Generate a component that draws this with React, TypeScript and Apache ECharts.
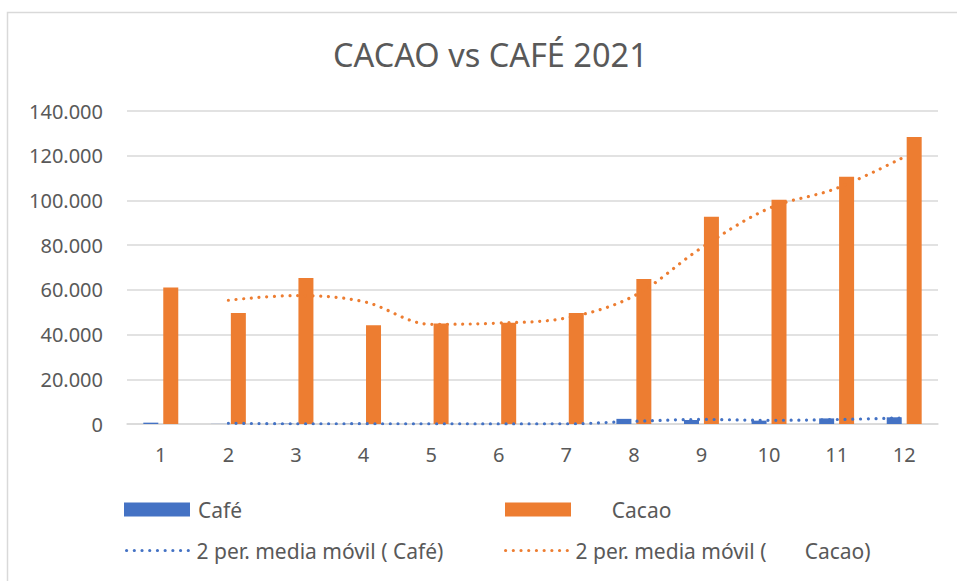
import React, { useEffect, useRef } from "react";
import * as echarts from "echarts";

const categories = ["1", "2", "3", "4", "5", "6", "7", "8", "9", "10", "11", "12"];
const cafeName = "Café";
const cacaoName = "      Cacao";
const cafeMAName = "2 per. media móvil ( Café)";
const cacaoMAName = "2 per. media móvil (       Cacao)";
const cafeValues = [600, 50, 150, 100, 50, 50, 100, 2300, 1800, 1500, 2500, 3000];
const cacaoValues = [61100, 49600, 65300, 44200, 45000, 45300, 49600, 64900, 92650, 100270, 110580, 128330];
const cafeMA = [null, 325, 100, 125, 75, 50, 75, 1200, 2050, 1650, 2000, 2750];
const cacaoMA = [null, 55350, 57450, 54750, 44600, 45150, 47450, 57250, 78775, 96460, 105425, 119455];
const yTicks = { min: 0, max: 140000, interval: 20000 };

const BLUE = "#4472C4";
const ORANGE = "#ED7D31";
const TEXT = "#595959";
const FONT = "'Noto Sans', 'Open Sans', sans-serif";

export default function App() {
  const ref = useRef<HTMLDivElement>(null);
  useEffect(() => {
    document.body.style.margin = "0";
    const chart = echarts.init(ref.current!, null, { renderer: "svg" });
    const dotStyle = (color: string) => ({
      color,
      width: 3.2,
      type: [0.01, 7.7] as number[],
      cap: "round" as const,
    });
    const legendBase = {
      orient: "horizontal" as const,
      itemWidth: 66,
      itemHeight: 14,
      textStyle: { color: TEXT, fontSize: 21, fontFamily: FONT, padding: [0, 0, 0, 3] },
      selectedMode: false,
    };
    const hiddenSymbol = { color: "rgba(0,0,0,0)", borderColor: "rgba(0,0,0,0)", borderWidth: 0, opacity: 0 };
    chart.setOption({
      animation: false,
      textStyle: { fontFamily: FONT },
      title: {
        text: "CACAO vs CAFÉ 2021",
        left: 328,
        top: 33,
        textStyle: { color: TEXT, fontSize: 32.5, fontWeight: "normal", fontFamily: FONT },
      },
      graphic: [
        {
          type: "rect",
          shape: { x: 7.5, y: 12.5, width: 1000, height: 700 },
          style: { fill: "none", stroke: "#d9d9d9", lineWidth: 1.5 },
          silent: true,
        },
      ],
      grid: { left: 127, right: 19, top: 111, bottom: 157, containLabel: false },
      legend: [
        { ...legendBase, data: [{ name: cafeName, icon: "rect" }], left: 119, top: 494 },
        { ...legendBase, data: [{ name: cacaoName, icon: "rect" }], left: 500, top: 494 },
        {
          ...legendBase,
          itemWidth: 62,
          data: [{ name: cafeMAName, itemStyle: hiddenSymbol, lineStyle: dotStyle(BLUE) }],
          left: 120,
          top: 535,
        },
        {
          ...legendBase,
          itemWidth: 62,
          data: [{ name: cacaoMAName, itemStyle: hiddenSymbol, lineStyle: dotStyle(ORANGE) }],
          left: 499,
          top: 535,
        },
      ],
      xAxis: {
        type: "category",
        data: categories,
        axisTick: { show: false },
        axisLine: { lineStyle: { color: "#d9d9d9", width: 1.5 } },
        axisLabel: { color: TEXT, fontSize: 20, fontFamily: FONT, margin: 20 },
      },
      yAxis: {
        type: "value",
        min: yTicks.min,
        max: yTicks.max,
        interval: yTicks.interval,
        axisLine: { show: false },
        axisTick: { show: false },
        splitLine: { lineStyle: { color: "#d9d9d9", width: 1.5 } },
        axisLabel: {
          color: TEXT,
          fontSize: 20,
          fontFamily: FONT,
          margin: 24,
          formatter: (v: number) => (v === 0 ? "0" : v.toLocaleString("de-DE")),
        },
      },
      series: [
        {
          name: cafeName,
          type: "bar",
          data: cafeValues,
          barWidth: 15,
          barGap: "33%",
          itemStyle: { color: BLUE },
        },
        {
          name: cacaoName,
          type: "bar",
          data: cacaoValues,
          barWidth: 15,
          barGap: "33%",
          itemStyle: { color: ORANGE },
        },
        {
          name: cafeMAName,
          type: "line",
          data: cafeMA,
          smooth: 0.35,
          symbol: "none",
          itemStyle: { color: BLUE },
          lineStyle: dotStyle(BLUE),
          z: 5,
        },
        {
          name: cacaoMAName,
          type: "line",
          data: cacaoMA,
          smooth: 0.35,
          symbol: "none",
          itemStyle: { color: ORANGE },
          lineStyle: dotStyle(ORANGE),
          z: 5,
        },
      ],
    });
    return () => chart.dispose();
  }, []);
  return <div ref={ref} style={{ width: 957, height: 581 }} />;
}
